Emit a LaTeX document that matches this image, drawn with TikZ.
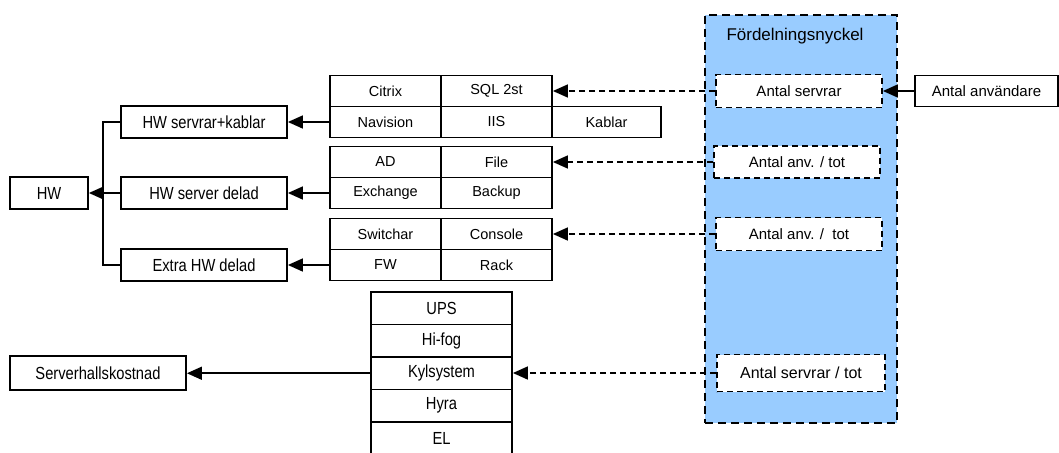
\documentclass[tikz,border=0pt]{standalone}
\usepackage{fontspec}
\setmainfont{Liberation Sans}
\newfontfamily\smalsf{Liberation Sans}[FakeStretch=0.84]
\usetikzlibrary{arrows.meta}

\definecolor{nyckelbla}{RGB}{153,204,255}

\tikzset{
  sz/.style 2 args={minimum width=#1pt, minimum height=#2pt},
  box/.style={draw, line width=1.8pt, inner sep=0pt, font=\fontsize{14.5}{16}\selectfont},
  kostnad/.style={box, font=\smalsf\fontsize{17.5}{20}\selectfont},
  nyckel/.style={box, dash pattern=on 6pt off 4pt, fill=white, font=\fontsize{15}{18}\selectfont},
  linje/.style={line width=1.6pt},
  pil/.style={linje, -{Triangle[length=15pt,width=13pt]}},
  streckpil/.style={pil, dash pattern=on 6pt off 4pt}
}

\begin{document}
\begin{tikzpicture}[x=1pt, y=-1pt]
  \useasboundingbox (0,0) rectangle (1059,452);

  % fördelningsnyckel
  \node[draw, line width=1.8pt, dash pattern=on 8pt off 5pt, fill=nyckelbla, sz={192}{408}] (nyckel) at (801,219) {};
  \node[font=\fontsize{17}{20}\selectfont] (titel) at (795,36) {Fördelningsnyckel};
  \node[nyckel, sz={166}{33}] (antserv) at (799,91) {Antal servrar};
  \node[nyckel, sz={166}{32}] (anv1) at (797,162) {Antal anv. / tot};
  \node[nyckel, sz={166}{33}] (anv2) at (799,234) {Antal anv. /\ \ tot};
  \node[nyckel, sz={168}{37}, font=\fontsize{16}{19}\selectfont] (servtot) at (801,373) {Antal servrar / tot};
  \node[box, sz={143}{31}, font=\fontsize{15}{18}\selectfont] (anvandare) at (986.5,91) {Antal användare};

  % servrar
  \node[box, sz={111}{31}] (citrix) at (385.5,91) {Citrix};
  \node[box, sz={111}{31}] (sql) at (496.5,91) {SQL 2st};
  \node[box, sz={111}{31}] (navision) at (385.5,122) {Navision};
  \node[box, sz={111}{31}] (iis) at (496.5,122) {IIS};
  \node[box, sz={109}{31}] (kablar) at (606.5,122) {Kablar};

  \node[box, sz={111}{31}] (ad) at (385.5,162) {AD};
  \node[box, sz={111}{31}] (file) at (496.5,162) {File};
  \node[box, sz={111}{31}] (exchange) at (385.5,193) {Exchange};
  \node[box, sz={111}{31}] (backup) at (496.5,193) {Backup};

  \node[box, sz={111}{31}] (switchar) at (385.5,234) {Switchar};
  \node[box, sz={111}{31}] (console) at (496.5,234) {Console};
  \node[box, sz={111}{31}] (fw) at (385.5,265) {FW};
  \node[box, sz={111}{31}] (rack) at (496.5,265) {Rack};

  % serverhall
  \foreach \namn/\txt [count=\i from 0] in {ups/UPS, hifog/Hi-fog, kyl/Kylsystem, hyra/Hyra, el/EL}
    \node[kostnad, sz={141}{32.5}] (\namn) at (441.5,308.25+32.5*\i) {\txt};

  % kostnader
  \node[kostnad, sz={78}{32}] (hw) at (49,193) {HW};
  \node[kostnad, sz={166}{32}] (hwsk) at (204,122) {HW servrar+kablar};
  \node[kostnad, sz={166}{32}] (hwsd) at (204,193) {HW server delad};
  \node[kostnad, sz={166}{32}] (extra) at (204,265) {Extra HW delad};
  \node[kostnad, sz={176}{34}] (hall) at (98,373.25) {Serverhallskostnad};

  \draw[linje] (hwsk.west) -- ++(-17,0) |- (extra.west);
  \draw[pil] (hwsd) -- (hw);
  \draw[pil] (navision) -- (hwsk);
  \draw[pil] (exchange) -- (hwsd);
  \draw[pil] (fw) -- (extra);
  \draw[pil] (kyl) -- (hall);
  \draw[pil] (anvandare) -- (antserv);

  \draw[streckpil] (antserv) -- (sql);
  \draw[streckpil] (anv1) -- (file);
  \draw[streckpil] (anv2) -- (console);
  \draw[streckpil] (servtot.west) -- (servtot.west -| kyl.east);
\end{tikzpicture}
\end{document}
